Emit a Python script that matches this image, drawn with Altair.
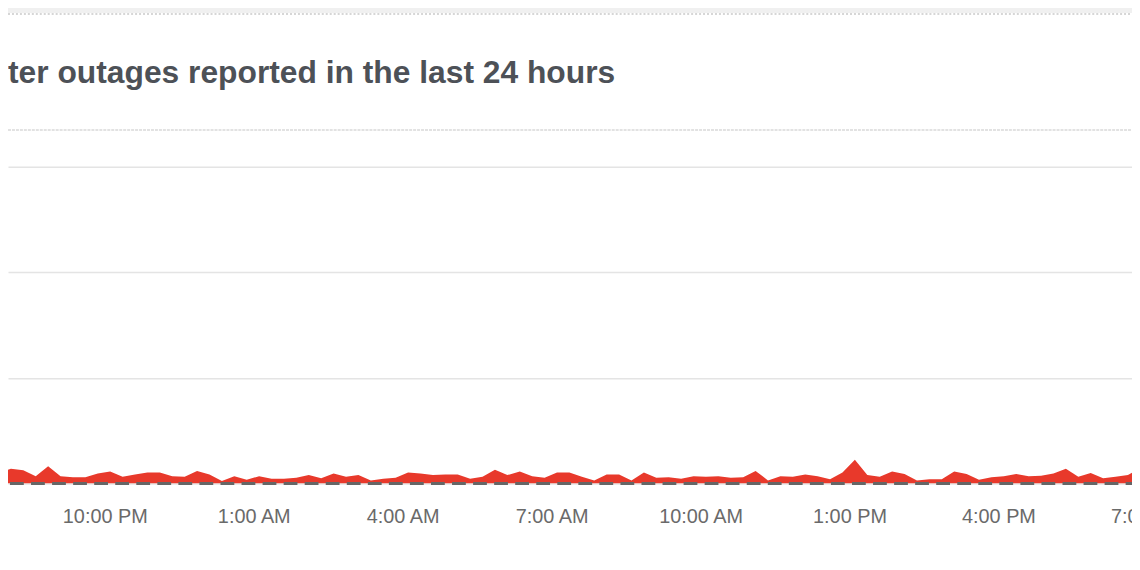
import altair as alt
import pandas as pd

# ---- data ----
title_text = "ter outages reported in the last 24 hours"
first_time = "2024-01-01 19:51:30"   # first 15-minute bucket (left edge, partly hidden)
reports = [
    2.1, 2.8, 2.5, 1.4, 3.3, 1.4, 1.2, 1.2, 1.9, 2.3,
    1.3, 1.7, 2.1, 2.1, 1.4, 1.3, 2.4, 1.7, 0.5, 1.4,
    0.7, 1.4, 0.9, 0.9, 1.1, 1.6, 1.0, 1.9, 1.3, 1.6,
    0.6, 0.9, 1.1, 2.1, 1.9, 1.6, 1.7, 1.7, 0.9, 1.3,
    2.6, 1.6, 2.3, 1.4, 1.1, 2.1, 2.1, 1.3, 0.6, 1.7,
    1.7, 0.6, 2.1, 1.1, 1.2, 0.9, 1.4, 1.3, 1.4, 1.1,
    1.2, 2.4, 0.6, 1.4, 1.3, 1.7, 1.4, 0.8, 2.1, 4.5,
    1.6, 1.3, 2.3, 1.8, 0.6, 0.8, 0.8, 2.3, 1.8, 0.7,
    1.2, 1.4, 1.8, 1.4, 1.5, 1.9, 2.8, 1.3, 2.0, 1.0,
    1.3, 1.6, 3.0,
]
times = (
    pd.date_range(first_time, periods=len(reports), freq="15min")
    .strftime("%Y-%m-%dT%H:%M:%S")
    .tolist()
)
# tick labels: every 3 hours (day, hour)
tick_days = [1, 2, 2, 2, 2, 2, 2, 2]
tick_hours = [22, 1, 4, 7, 10, 13, 16, 19]
y_grid = [0, 20, 40, 60]

df = pd.DataFrame({"time": times, "reports": reports})
deco = pd.DataFrame({"k": [0]})

PLOT_W = 1172
PLOT_H = 319
RED = "#e8392b"

x_scale = alt.Scale(
    domain=[
        alt.DateTime(year=2024, month=1, date=1, hours=20, minutes=3, seconds=0),
        alt.DateTime(year=2024, month=1, date=2, hours=19, minutes=29, seconds=24),
    ]
)
y_scale = alt.Scale(domain=[0, 60], nice=False, zero=True)

x_axis = alt.Axis(
    values=[alt.DateTime(year=2024, month=1, date=d, hours=h) for d, h in zip(tick_days, tick_hours)],
    format="%-I:%M %p",
    labelFont="Liberation Sans",
    labelFontSize=20,
    labelColor="#6a6a6a",
    labelPadding=39,
    labelBaseline="alphabetic",
    labelAlign="center",
    labelOverlap=False,
    labelFlush=False,
    ticks=False,
    domain=False,
    grid=False,
    title=None,
)
y_axis = alt.Axis(
    values=y_grid,
    grid=True,
    gridColor="#e4e4e4",
    gridWidth=1.4,
    labels=False,
    ticks=False,
    domain=False,
    title=None,
)

top_band = alt.Chart(deco).mark_rect(color="#f0f0f0").encode(
    x=alt.value(0), x2=alt.value(PLOT_W), y=alt.value(-160), y2=alt.value(-155)
)
top_dots = alt.Chart(deco).mark_rule(color="#d6d6d6", strokeWidth=2, strokeDash=[2, 2]).encode(
    x=alt.value(0), x2=alt.value(PLOT_W), y=alt.value(-154)
)
divider = alt.Chart(deco).mark_rule(color="#e2e2e2", strokeWidth=2, strokeDash=[3, 1]).encode(
    x=alt.value(0), x2=alt.value(PLOT_W), y=alt.value(-37)
)
title = alt.Chart(deco).mark_text(
    text=title_text,
    align="left",
    baseline="alphabetic",
    font="Liberation Sans",
    fontSize=32,
    fontWeight="bold",
    color="#4d5157",
).encode(x=alt.value(0), y=alt.value(-84))

area = alt.Chart(df).mark_area(color=RED, opacity=1, interpolate="linear", clip=True).encode(
    x=alt.X("time:T", scale=x_scale, axis=x_axis),
    y=alt.Y("reports:Q", scale=y_scale, axis=y_axis),
)

baseline = alt.Chart(deco).mark_rule(
    color="#666666", strokeWidth=3, strokeDash=[13.9, 7.3], strokeDashOffset=9.9
).encode(y=alt.datum(0))

chart = (
    alt.layer(top_band, top_dots, divider, title, area, baseline)
    .properties(
        width=PLOT_W,
        height=PLOT_H,
        autosize="none",
        padding={"left": 0, "top": 158, "right": -40, "bottom": 70},
        background="white",
    )
    .configure_view(stroke=None)
)

chart.save("out.html", embed_options={"renderer": "svg", "actions": False})
